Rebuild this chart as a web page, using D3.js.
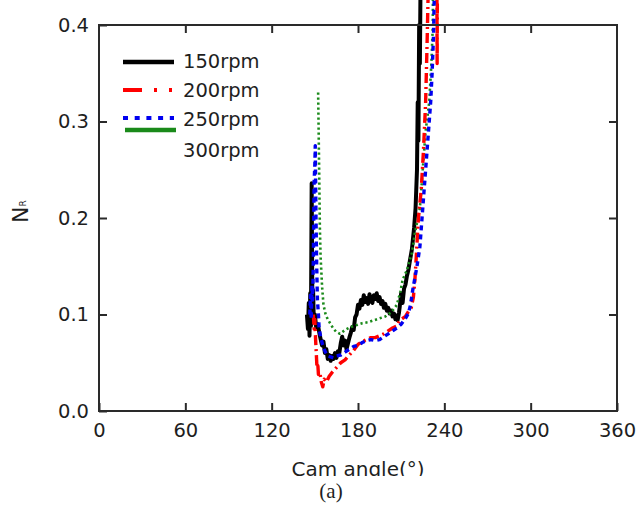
<!DOCTYPE html>
<html>
<head>
<meta charset="utf-8">
<script src="https://cdn.jsdelivr.net/npm/d3@7"></script>
<style>
  body { margin: 0; background: #fff; }
  svg { display: block; }
  text { font-family: "DejaVu Sans", sans-serif; fill: #1e1e1e; }
</style>
</head>
<body>
<svg width="637" height="506"></svg>
<script>
// series: [cam angle (deg), N_R]
var rpm150 = [
  [144.5, 0.100], [145.2, 0.085], [145.8, 0.112], [146.3, 0.078], [146.8, 0.122],
  [147.3, 0.088], [147.8, 0.236], [148.3, 0.105], [148.8, 0.125], [149.3, 0.092],
  [150.0, 0.100], [151.0, 0.086], [152.0, 0.090], [153.5, 0.078], [155.0, 0.068],
  [156.0, 0.072], [157.0, 0.060], [158.0, 0.064], [159.0, 0.054], [160.0, 0.058],
  [161.0, 0.052], [162.0, 0.057], [163.0, 0.054], [164.0, 0.060], [165.0, 0.055],
  [166.0, 0.062], [167.0, 0.060], [168.0, 0.070], [169.0, 0.077], [170.0, 0.068],
  [171.0, 0.073], [172.0, 0.064], [173.0, 0.070], [174.0, 0.076], [175.0, 0.081],
  [176.0, 0.087], [177.0, 0.084], [178.0, 0.097], [179.0, 0.100], [180.0, 0.110],
  [181.0, 0.106], [182.0, 0.115], [183.0, 0.110], [184.0, 0.120], [185.0, 0.113],
  [186.0, 0.117], [187.0, 0.111], [188.0, 0.121], [189.0, 0.114], [190.0, 0.112],
  [191.0, 0.120], [192.0, 0.116], [193.0, 0.122], [194.0, 0.114], [195.0, 0.118],
  [196.0, 0.111], [197.0, 0.114], [198.0, 0.107], [199.0, 0.111], [200.0, 0.104],
  [201.0, 0.107], [202.0, 0.101], [203.0, 0.104], [204.0, 0.098], [205.0, 0.101],
  [206.0, 0.095], [207.0, 0.099], [207.5, 0.094], [208.5, 0.102], [209.0, 0.108],
  [210.0, 0.122], [211.0, 0.112], [212.0, 0.127], [213.0, 0.131], [214.0, 0.140],
  [215.0, 0.146], [216.0, 0.155], [217.5, 0.168], [219.0, 0.190], [220.0, 0.210],
  [221.0, 0.250], [221.5, 0.320], [222.0, 0.280], [222.5, 0.400], [223.0, 0.360],
  [223.5, 0.450], [224.5, 0.500], [225.0, 0.600]
];
var rpm200 = [
  [149.0, 0.100], [149.5, 0.085], [150.0, 0.095], [150.5, 0.075], [151.0, 0.060],
  [151.5, 0.045], [152.0, 0.050], [152.5, 0.038], [153.5, 0.040], [154.5, 0.030],
  [155.5, 0.025], [156.5, 0.033], [158.0, 0.030], [160.0, 0.036], [162.0, 0.040],
  [165.0, 0.045], [168.0, 0.050], [171.0, 0.053], [174.0, 0.058], [177.0, 0.063],
  [180.0, 0.069], [183.0, 0.072], [186.0, 0.074], [189.0, 0.076], [192.0, 0.076],
  [195.0, 0.078], [198.0, 0.080], [201.0, 0.083], [204.0, 0.086], [207.0, 0.088],
  [209.0, 0.094], [211.0, 0.096], [213.0, 0.098], [215.0, 0.103], [217.0, 0.107],
  [218.5, 0.118], [219.5, 0.135], [220.5, 0.160], [222.0, 0.200], [224.0, 0.230],
  [225.5, 0.270], [227.0, 0.320], [228.0, 0.380], [229.0, 0.450], [229.5, 0.600],
  [234.5, 0.600], [235.0, 0.360], [235.5, 0.600]
];
var rpm250 = [
  [146.5, 0.100], [147.0, 0.120], [147.5, 0.095], [148.0, 0.130], [148.5, 0.115],
  [149.0, 0.160], [149.5, 0.237], [150.0, 0.255], [150.3, 0.275], [150.8, 0.200],
  [151.3, 0.150], [151.8, 0.115], [152.5, 0.100], [153.0, 0.085], [154.0, 0.077],
  [155.5, 0.068], [157.0, 0.062], [159.0, 0.057], [161.0, 0.056], [163.0, 0.055],
  [165.0, 0.057], [168.0, 0.058], [171.0, 0.061], [174.0, 0.064], [177.0, 0.067],
  [180.0, 0.068], [183.0, 0.071], [186.0, 0.073], [189.0, 0.074], [192.0, 0.073],
  [195.0, 0.074], [198.0, 0.077], [201.0, 0.080], [204.0, 0.083], [207.0, 0.086],
  [210.0, 0.090], [213.0, 0.096], [215.0, 0.101], [216.5, 0.110], [218.0, 0.125],
  [221.0, 0.150], [223.0, 0.170], [224.5, 0.200], [226.0, 0.230], [227.5, 0.260],
  [229.0, 0.290], [230.5, 0.320], [231.5, 0.350], [232.5, 0.390], [233.0, 0.430],
  [233.5, 0.600]
];
var rpm300 = [
  [152.3, 0.330], [153.0, 0.250], [153.5, 0.190], [154.0, 0.160], [155.0, 0.130],
  [156.0, 0.110], [157.5, 0.100], [159.0, 0.095], [161.0, 0.090], [163.0, 0.085],
  [165.0, 0.082], [167.5, 0.080], [171.0, 0.084], [175.0, 0.087], [179.0, 0.089],
  [183.0, 0.091], [187.0, 0.092], [191.0, 0.094], [195.0, 0.096], [199.0, 0.098],
  [203.0, 0.102], [207.0, 0.110], [209.5, 0.124], [211.0, 0.136], [214.0, 0.146],
  [217.5, 0.164], [219.5, 0.184], [221.0, 0.195], [223.0, 0.210], [225.0, 0.250],
  [227.0, 0.290], [229.5, 0.320], [231.0, 0.360], [232.0, 0.400], [232.5, 0.600]
];

var seriesNames = ["150rpm", "200rpm", "250rpm", "300rpm"];
var xTicks = [0, 60, 120, 180, 240, 300, 360];
var yTicks = [0.0, 0.1, 0.2, 0.3, 0.4];

var svg = d3.select("svg"),
    plotLeft = 99, plotRight = 617, plotTop = 25, plotBottom = 411;

var x = d3.scaleLinear().domain([0, 360]).range([plotLeft, plotRight]);
var y = d3.scaleLinear().domain([0, 0.4]).range([plotBottom, plotTop]);

var styles = [
    { data: rpm150, color: "#000", width: 4, dash: null },
    { data: rpm300, color: "#1a8a1a", width: 2.6, dash: "2.2,2.8" },
    { data: rpm200, color: "#f00", width: 3.4, dash: "10,4,2,4" },
    { data: rpm250, color: "#0000f0", width: 3.4, dash: "5,4" }
];

var line = d3.line()
    .x(function(d) { return x(d[0]); })
    .y(function(d) { return y(d[1]); });

svg.append("g")
    .attr("class", "curves")
    .selectAll("path")
    .data(styles)
    .enter()
        .append("path")
        .attr("d", function(d) { return line(d.data); })
        .attr("fill", "none")
        .attr("stroke", function(d) { return d.color; })
        .attr("stroke-width", function(d) { return d.width; })
        .attr("stroke-dasharray", function(d) { return d.dash; })
        .attr("stroke-linejoin", "round");

// frame
svg.append("rect")
    .attr("x", plotLeft).attr("y", plotTop)
    .attr("width", plotRight - plotLeft).attr("height", plotBottom - plotTop)
    .attr("fill", "none")
    .attr("stroke", "#2a2a2a")
    .attr("stroke-width", 2);

function styleAxis(g) {
    g.select(".domain").remove();
    g.selectAll("line").attr("stroke", "#2a2a2a").attr("stroke-width", 2);
    g.selectAll("text")
        .style("font-family", "DejaVu Sans, sans-serif")
        .style("font-size", "19.5px")
        .attr("fill", "#1e1e1e");
}

svg.append("g")
    .attr("transform", "translate(0," + plotBottom + ")")
    .call(d3.axisBottom(x).tickValues(xTicks).tickSizeInner(-8).tickSizeOuter(0).tickPadding(12)
        .tickFormat(d3.format("d")))
    .call(styleAxis);

svg.append("g")
    .attr("transform", "translate(0," + plotTop + ")")
    .call(d3.axisTop(x).tickValues(xTicks.slice(1, -1)).tickSizeInner(-8).tickSizeOuter(0).tickFormat(""))
    .call(styleAxis);

svg.append("g")
    .attr("transform", "translate(" + plotLeft + ",0)")
    .call(d3.axisLeft(y).tickValues(yTicks).tickSizeInner(-8).tickSizeOuter(0).tickPadding(10)
        .tickFormat(d3.format(".1f")))
    .call(styleAxis);

svg.append("g")
    .attr("transform", "translate(" + plotRight + ",0)")
    .call(d3.axisRight(y).tickValues(yTicks.slice(1, -1)).tickSizeInner(-8).tickSizeOuter(0).tickFormat(""))
    .call(styleAxis);

// legend (symbols and labels sit a little out of step, as in the original)
var legendLines = [
    { x1: 123, x2: 174, y: 62, color: "#000", width: 4.5, dash: null },
    { x1: 123, x2: 174, y: 90, color: "#f00", width: 4, dash: "19,12,3,12,3,12" },
    { x1: 123, x2: 174, y: 118, color: "#0000f0", width: 4, dash: "5,6.7" },
    { x1: 125, x2: 176, y: 130, color: "#1a8a1a", width: 4.5, dash: null }
];
var legendText = [68, 97, 126, 157];

svg.append("g")
    .attr("class", "legend")
    .selectAll("line")
    .data(legendLines)
    .enter()
        .append("line")
        .attr("x1", function(d) { return d.x1; })
        .attr("x2", function(d) { return d.x2; })
        .attr("y1", function(d) { return d.y; })
        .attr("y2", function(d) { return d.y; })
        .attr("stroke", function(d) { return d.color; })
        .attr("stroke-width", function(d) { return d.width; })
        .attr("stroke-dasharray", function(d) { return d.dash; });

svg.select(".legend")
    .selectAll("text")
    .data(seriesNames)
    .enter()
        .append("text")
        .attr("x", 183)
        .attr("y", function(d, i) { return legendText[i]; })
        .style("font-size", "19.5px")
        .text(String);

// axis titles
svg.append("text")
    .attr("x", (plotLeft + plotRight) / 2)
    .attr("y", 476)
    .attr("text-anchor", "middle")
    .style("font-size", "20px")
    .text("Cam angle(°)");

var yTitle = svg.append("text")
    .attr("transform", "translate(28,223) rotate(-90)")
    .style("font-size", "22px");
yTitle.append("tspan").text("N");
yTitle.append("tspan").attr("dy", -2).style("font-size", "9px").text("R");

// white band cuts the bottom of the axis title like the source figure
svg.append("rect")
    .attr("x", 0).attr("y", 476)
    .attr("width", 637).attr("height", 30)
    .attr("fill", "#fff");

svg.append("text")
    .attr("x", 331)
    .attr("y", 498)
    .attr("text-anchor", "middle")
    .style("font-family", "Liberation Serif, Times New Roman, serif")
    .style("font-size", "21px")
    .text("(a)");
</script>
</body>
</html>
